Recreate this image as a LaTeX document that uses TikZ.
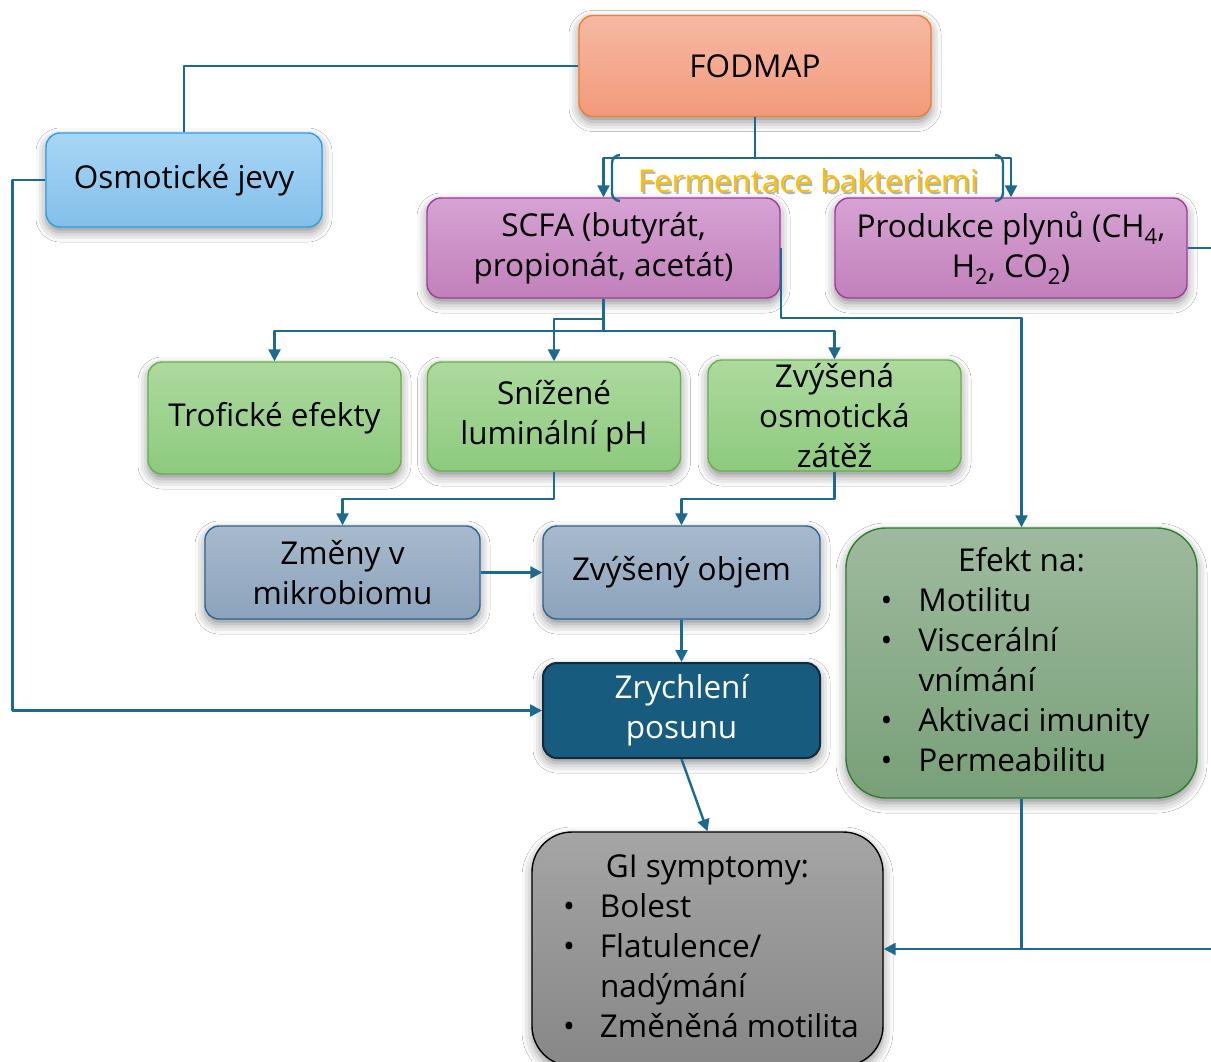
\documentclass[tikz,border=0pt]{standalone}
\usepackage{fontspec}
\setmainfont{Open Sans}
\usetikzlibrary{arrows.meta, shadows.blur}

\definecolor{linkblue}{HTML}{1D6A8F}
\definecolor{fermgold}{HTML}{FFC000}
\definecolor{orangeline}{HTML}{ED7D31}
\definecolor{orangetop}{HTML}{F6B9A4}
\definecolor{orangebot}{HTML}{F29A7A}
\definecolor{skyline}{HTML}{2E9FE0}
\definecolor{skytop}{HTML}{A8D6F5}
\definecolor{skybot}{HTML}{82BFEA}
\definecolor{violetline}{HTML}{A33AA0}
\definecolor{violettop}{HTML}{D6A3D3}
\definecolor{violetbot}{HTML}{C280BB}
\definecolor{greenline}{HTML}{6AB04A}
\definecolor{greentop}{HTML}{ADDA9E}
\definecolor{greenbot}{HTML}{8DCA7E}
\definecolor{slateline}{HTML}{2F6590}
\definecolor{slatetop}{HTML}{A8BACD}
\definecolor{slatebot}{HTML}{8BA3BB}
\definecolor{deepfill}{HTML}{175C7E}
\definecolor{deepline}{HTML}{13293D}
\definecolor{mossline}{HTML}{2E7D32}
\definecolor{mosstop}{HTML}{9EBA9E}
\definecolor{mossbot}{HTML}{78A078}
\definecolor{greytop}{HTML}{A5A5A5}
\definecolor{greybot}{HTML}{878787}

\begin{document}
\begin{tikzpicture}[x=1pt, y=-1pt, line join=round]
			\tikzstyle{box}      = [rectangle, rounded corners=14pt, line width=1.4pt, align=center, inner sep=2pt,
			                        font=\fontsize{31.5}{40}\selectfont,
			                        blur shadow={shadow xshift=0pt, shadow yshift=-5pt, shadow blur radius=10pt, shadow opacity=45}]
			\tikzstyle{boxOrange} = [box, draw=orangeline, top color=orangetop, bottom color=orangebot]
			\tikzstyle{boxSky}    = [box, draw=skyline, top color=skytop, bottom color=skybot]
			\tikzstyle{boxViolet} = [box, draw=violetline, top color=violettop, bottom color=violetbot]
			\tikzstyle{boxGreen}  = [box, draw=greenline, top color=greentop, bottom color=greenbot]
			\tikzstyle{boxSlate}  = [box, draw=slateline, top color=slatetop, bottom color=slatebot]
			\tikzstyle{boxDeep}   = [box, draw=deepline, line width=2pt, fill=deepfill, text=white]
			\tikzstyle{boxMoss}   = [box, rounded corners=40pt, draw=mossline, top color=mosstop, bottom color=mossbot]
			\tikzstyle{boxGrey}   = [box, rounded corners=40pt, draw=black, top color=greytop, bottom color=greybot]
			\tikzstyle{link}      = [draw=linkblue, line width=2.4pt]
			\tikzstyle{linkto}    = [link, -{Triangle[width=12pt, length=12pt]}]

			\useasboundingbox (0,0) rectangle (1211,1061);
			\fill[white] (0,0) rectangle (1211,1061);

			\node[boxOrange, minimum width=352pt, minimum height=101pt] (fodmap) at (755,66) {FODMAP};
			\node[boxSky, minimum width=276pt, minimum height=94pt] (osmo) at (184,180) {Osmotické jevy};
			\node[boxViolet, minimum width=353pt, minimum height=100pt] (scfa) at (603.5,248) {SCFA (butyrát,\\propionát, acetát)};
			\node[boxViolet, minimum width=352pt, minimum height=100pt] (plyn) at (1011,248)
				{Produkce plynů (CH\textsubscript{4},\\H\textsubscript{2}, CO\textsubscript{2})};

			\foreach \name/\x/\y/\h/\text in {trof/274.5/418/112/Trofické efekty, ph/554/416.5/109/Snížené\\luminální pH, zatez/834.5/415.5/111/Zvýšená\\osmotická\\zátěž}
				\node[boxGreen, minimum width=253pt, minimum height=\h pt] (\name) at (\x,\y) {\text};

			\node[boxSlate, minimum width=275pt, minimum height=93pt] (mikro) at (342.5,572.5) {Změny v\\mikrobiomu};
			\node[boxSlate, minimum width=277pt, minimum height=93pt] (objem) at (681.5,572.5) {Zvýšený objem};
			\node[boxDeep, minimum width=277pt, minimum height=95pt] (posun) at (681.5,710.5) {Zrychlení\\posunu};

			\node[boxMoss, minimum width=351pt, minimum height=270pt, inner sep=0pt] (efekt) at (1021.5,663)
				{\begin{tabular}{@{}p{38pt}@{}p{244pt}@{}}
					\multicolumn{2}{@{}c@{}}{Efekt na:}\\
					•&Motilitu\\
					•&Viscerální\\
					&vnímání\\
					•&\leavevmode\rlap{Aktivaci imunity}\\
					•&Permeabilitu
				\end{tabular}};
			\node[boxGrey, minimum width=351pt, minimum height=234pt, inner sep=0pt] (gi) at (707.5,949)
				{\begin{tabular}{@{}p{37pt}@{}p{252pt}@{}}
					\multicolumn{2}{@{}c@{}}{GI symptomy:}\\
					•&Bolest\\
					•&Flatulence/\\
					&nadýmání\\
					•&\leavevmode\rlap{Změněná motilita}
				\end{tabular}};

			% fermentation split
			\draw[link] (fodmap.south) -- ++(0,41) coordinate (ferm);
			\draw[linkto] (ferm) -| (scfa.north);
			\draw[linkto] (ferm) -| (plyn.north);
			\draw[link, rounded corners=8pt] (620,155) -| (612,201) -- (620,201);
			\draw[link, rounded corners=8pt] (995,155) -| (1003,201) -- (995,201);
			\node[text=gray!60, font=\fontsize{31.5}{40}\selectfont] (fermshadow) at (810,183) {Fermentace bakteriemi};
			\node[text=fermgold, font=\fontsize{31.5}{40}\selectfont] (fermlabel) at (808,181) {Fermentace bakteriemi};

			\draw[link] (fodmap.west) -| (osmo.north);
			\draw[linkto] (osmo.west) -- ++(-33,0) |- (posun.west);

			\draw[link] (scfa.south) -- ++(0,32) coordinate (split);
			\foreach \to in {trof, zatez}
				\draw[linkto] (split) -| (\to.north);
			\draw[linkto] (scfa.south) ++(0,20) -| (ph.north);
			\draw[linkto] (scfa.east) -- ++(0,70) -| (efekt.north);

			\draw[linkto] (ph.south) -- ++(0,27) -| (mikro.north);
			\draw[linkto] (zatez.south) -- ++(0,27) -| (objem.north);
			\draw[linkto] (mikro) -- (objem);
			\draw[linkto] (objem) -- (posun);
			\draw[linkto] (posun.south) -- (gi.north);

			\draw[linkto] (plyn.east) -- ++(26,0) |- (gi.east);
			\draw[link] (efekt.south) -- (efekt.south |- gi.east);

		\end{tikzpicture}
\end{document}
